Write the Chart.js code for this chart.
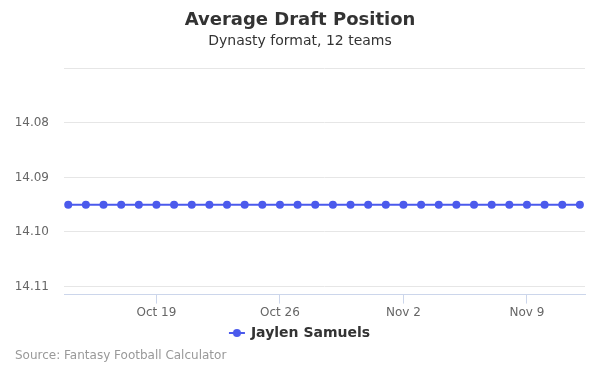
<!DOCTYPE html>
<html>
<head>
<meta charset="utf-8">
<script src="https://cdn.jsdelivr.net/npm/chart.js@4.4.1/dist/chart.umd.min.js"></script>
<style>
html,body{margin:0;padding:0;background:#fff;}
#wrap{width:600px;height:375px;position:relative;}
</style>
</head>
<body>
<div id="wrap"><canvas id="c" width="600" height="375"></canvas></div>
<script>
const dates = ["Oct 14","Oct 15","Oct 16","Oct 17","Oct 18","Oct 19","Oct 20","Oct 21","Oct 22","Oct 23","Oct 24","Oct 25","Oct 26","Oct 27","Oct 28","Oct 29","Oct 30","Oct 31","Nov 1","Nov 2","Nov 3","Nov 4","Nov 5","Nov 6","Nov 7","Nov 8","Nov 9","Nov 10","Nov 11","Nov 12"];
const values = [14.095,14.095,14.095,14.095,14.095,14.095,14.095,14.095,14.095,14.095,14.095,14.095,14.095,14.095,14.095,14.095,14.095,14.095,14.095,14.095,14.095,14.095,14.095,14.095,14.095,14.095,14.095,14.095,14.095,14.095];
const xTickLabels = ["Oct 19","Oct 26","Nov 2","Nov 9"];
const yTicks = [14.07, 14.08, 14.09, 14.10, 14.11];
const yTickLabels = ["", "14.08", "14.09", "14.10", "14.11"];
const seriesName = "Jaylen Samuels";
const color = "#4b5aec";

const FONT = "'DejaVu Sans', sans-serif";

// legend marker: line with dot
const mk = document.createElement('canvas');
mk.width = 18; mk.height = 10;
(function(){
  const g = mk.getContext('2d');
  g.strokeStyle = color; g.lineWidth = 2;
  g.beginPath(); g.moveTo(1,5); g.lineTo(17,5); g.stroke();
  g.fillStyle = color; g.beginPath(); g.arc(9,5,4,0,Math.PI*2); g.fill();
})();

const sourcePlugin = {
  id: 'source',
  afterDraw(chart) {
    const ctx = chart.ctx;
    ctx.save();
    ctx.font = "12px " + FONT;
    ctx.fillStyle = "#999999";
    ctx.textBaseline = "middle";
    ctx.textAlign = "left";
    ctx.fillText("Source: Fantasy Football Calculator", 15, 356);
    ctx.restore();
  }
};

new Chart(document.getElementById('c'), {
  type: 'line',
  data: {
    datasets: [{
      label: seriesName,
      data: values.map((v, i) => ({x: i, y: v})),
      borderColor: color,
      backgroundColor: color,
      borderWidth: 2,
      pointRadius: 4,
      pointHoverRadius: 4,
      pointBackgroundColor: color,
      pointBorderWidth: 0,
      tension: 0
    }]
  },
  options: {
    responsive: false,
    animation: false,
    layout: { padding: { left: 15, right: 15, top: 0, bottom: 25 } },
    plugins: {
      title: {
        display: true,
        text: "Average Draft Position",
        color: "#333333",
        font: { family: FONT, size: 18, weight: 'bold' },
        padding: { top: 10, bottom: 1 }
      },
      subtitle: {
        display: true,
        text: "Dynasty format, 12 teams",
        color: "#333333",
        font: { family: FONT, size: 14, weight: 'normal' },
        padding: { top: 0, bottom: 19 }
      },
      legend: {
        position: 'bottom',
        labels: {
          color: "#333333",
          font: { family: FONT, size: 14, weight: 'bold' },
          usePointStyle: true,
          generateLabels(chart) {
            return [{
              text: seriesName,
              pointStyle: mk,
              fillStyle: color,
              strokeStyle: color,
              lineWidth: 0,
              datasetIndex: 0,
              fontColor: "#333333"
            }];
          },
          padding: 4
        }
      },
      tooltip: { enabled: false }
    },
    scales: {
      x: {
        type: 'linear',
        min: -0.24,
        max: 29.29,
        afterBuildTicks(scale) {
          scale.ticks = xTickLabels.map(l => ({ value: dates.indexOf(l) }));
        },
        ticks: {
          autoSkip: false,
          maxRotation: 0,
          color: "#666666",
          font: { family: FONT, size: 12 },
          padding: 2,
          callback(v) { return dates[Math.round(v)]; }
        },
        grid: {
          drawOnChartArea: false,
          drawTicks: true,
          tickLength: 9,
          color: "#ccd6eb",
          lineWidth: 1
        },
        border: { display: true, color: "#ccd6eb", width: 1 }
      },
      y: {
        type: 'linear',
        reverse: true,
        min: 14.07,
        max: 14.1115,
        afterBuildTicks(scale) {
          scale.ticks = yTicks.map(v => ({ value: v }));
        },
        afterFit(scale) {
          scale.width = 49;
        },
        ticks: {
          color: "#666666",
          font: { family: FONT, size: 12 },
          padding: 15,
          callback(v) {
            const i = yTicks.findIndex(t => Math.abs(t - v) < 1e-9);
            return i >= 0 ? yTickLabels[i] : '';
          }
        },
        grid: {
          color: "#e6e6e6",
          lineWidth: 1,
          drawTicks: false
        },
        border: { display: false }
      }
    }
  },
  plugins: [sourcePlugin]
});
</script>
</body>
</html>
